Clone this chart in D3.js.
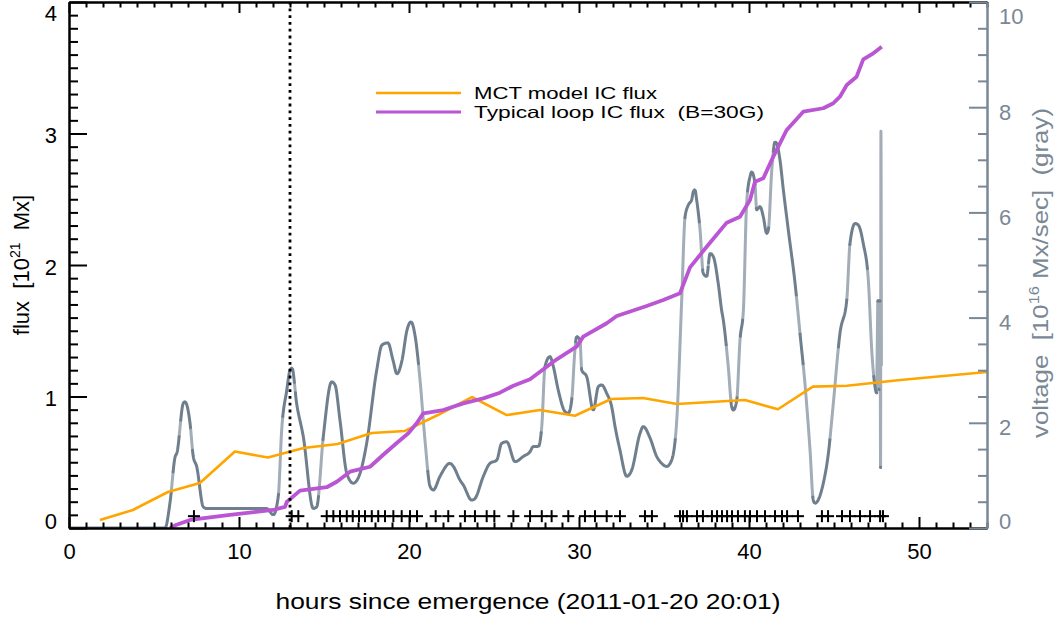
<!DOCTYPE html>
<html>
<head>
<meta charset="utf-8">
<script src="https://cdn.jsdelivr.net/npm/d3@7"></script>
<style>
  html, body { margin: 0; padding: 0; background: #ffffff; }
  svg { display: block; }
  text { font-family: "Liberation Sans", Arial, sans-serif; }
</style>
</head>
<body>
<svg id="chart" width="1055" height="617"></svg>
<script>
// ---- data -------------------------------------------------------------
// MCT model interchange-connectivity flux [1e21 Mx]
const mctHours = [1.82, 3.76, 5.82, 7.7, 9.76, 11.7, 13.8, 15.8, 17.8, 19.76, 21.7, 23.7,
  25.75, 27.7, 29.76, 31.9, 33.76, 35.76, 39.76, 41.7, 43.76, 45.76, 48.9, 54.0];
const mctFlux = [0.061, 0.137, 0.274, 0.342, 0.582, 0.536, 0.608, 0.639, 0.722, 0.738, 0.859, 0.996,
  0.859, 0.897, 0.854, 0.981, 0.989, 0.943, 0.973, 0.903, 1.075, 1.082, 1.125, 1.186];

// Typical loop IC flux for B = 30 G [1e21 Mx]
const loopHours = [5.94, 6.29, 7.12, 9.47, 12.0, 12.7, 12.82, 13.59, 15.16, 15.75, 16.53, 17.71,
  18.47, 19.28, 19.96, 20.45, 20.84, 22.02, 23.19, 24.37, 25.35, 26.14, 27.12, 28.69, 29.86,
  30.25, 31.63, 32.22, 33.98, 34.96, 35.94, 36.53, 37.51, 38.69, 39.47, 40.06, 40.35, 40.84,
  41.43, 42.22, 43.19, 44.37, 44.96, 45.35, 45.75, 46.33, 46.72, 47.31, 47.81];
const loopFlux = [0, 0.023, 0.061, 0.099, 0.137, 0.16, 0.2, 0.284, 0.31, 0.352, 0.428, 0.466,
  0.555, 0.646, 0.72, 0.796, 0.872, 0.897, 0.948, 0.986, 1.029, 1.082, 1.131, 1.283, 1.379,
  1.455, 1.557, 1.612, 1.688, 1.734, 1.785, 1.982, 2.139, 2.322, 2.367, 2.494, 2.633, 2.659,
  2.824, 3.027, 3.166, 3.192, 3.23, 3.28, 3.369, 3.432, 3.564, 3.61, 3.66];

// Voltage [1e16 Mx/sec]
const voltHours = [0, 5.65, 5.94, 6.24, 6.35, 6.72, 6.82, 7.12, 7.31, 7.51, 7.9, 8.1, 11.63,
  12.02, 12.31, 12.51, 12.81, 13.0, 13.12, 13.39, 13.78, 14.37, 14.57, 14.96, 15.45, 15.65,
  15.94, 16.34, 16.72, 17.12, 17.51, 18.1, 18.41, 18.76, 19.06, 19.29, 19.59, 19.88, 20.12,
  20.35, 20.65, 20.94, 21.24, 21.43, 21.82, 22.41, 22.61, 23.0, 23.19, 23.69, 23.88, 24.37,
  24.76, 25.16, 25.45, 25.75, 26.24, 26.72, 27.12, 27.31, 27.61, 27.81, 28.0, 28.29, 28.49,
  28.78, 29.18, 29.37, 29.57, 29.76, 29.86, 30.06, 30.16, 30.45, 30.84, 31.14, 31.34, 31.63,
  31.92, 32.12, 32.41, 32.81, 33.1, 33.59, 33.78, 34.18, 34.57, 34.86, 35.16, 35.45, 35.75,
  36.04, 36.24, 36.43, 36.63, 36.72, 36.82, 36.92, 37.12, 37.31, 37.51, 37.71, 37.9, 38.19,
  38.39, 38.49, 38.78, 38.98, 39.08, 39.28, 39.47, 39.67, 39.86, 40.06, 40.16, 40.35, 40.45,
  40.65, 40.84, 41.04, 41.14, 41.34, 41.53, 41.63, 41.82, 42.02, 42.31, 42.71, 43.0, 43.29,
  43.59, 43.78, 43.88, 44.37, 44.67, 44.96, 45.35, 45.75, 45.94, 46.24, 46.43, 46.72, 47.02,
  47.22, 47.41, 47.51, 47.53, 47.59, 47.65, 47.71, 47.74, 47.76, 47.79];
const voltValues = [0, 0, 0.48, 1.35, 1.43, 2.37, 2.4, 1.99, 1.36, 1.17, 0.4, 0.37, 0.37,
  0.25, 0.6, 1.86, 2.62, 3.0, 3.04, 2.37, 1.74, 0.37, 0.4, 1.74, 2.78, 2.72,
  2.05, 1.04, 0.85, 1.04, 1.61, 3.0, 3.48, 3.52, 3.19, 2.93, 3.19, 3.76, 3.92,
  3.67, 2.81, 1.67, 0.79, 0.72, 0.98, 1.23, 1.17, 0.91, 0.82, 0.53, 0.56, 0.98,
  1.23, 1.29, 1.61, 1.64, 1.26, 1.36, 1.45, 1.55, 1.55, 1.93, 3.07, 3.26, 3.07,
  2.62, 2.21, 2.18, 2.43, 3.38, 3.64, 3.57, 3.0, 2.88, 2.24, 2.69, 2.72, 2.56,
  2.31, 1.93, 1.48, 0.98, 1.1, 1.8, 1.93, 1.71, 1.36, 1.23, 1.17, 1.29, 2.05,
  4.33, 5.92, 6.14, 6.24, 6.39, 6.43, 6.24, 5.67, 4.84, 4.78, 5.22, 5.16, 4.65,
  4.14, 3.95, 3.07, 2.31, 2.24, 2.43, 3.57, 4.14, 6.17, 6.68, 6.77, 6.55, 6.05,
  6.11, 5.92, 5.6, 5.67, 6.81, 7.34, 7.31, 7.0, 6.43, 5.67, 4.65, 3.7, 2.75,
  1.48, 0.53, 0.47, 0.85, 1.42, 2.37, 3.7, 4.33, 5.41, 5.79, 5.76, 5.41, 4.71,
  3.38, 2.69, 2.56, 3.1, 4.33, 2.62, 4.33, 1.14, 7.55, 3.1];

// Times of observed events (plotted as crosses just above the time axis)
const eventHours = [7.35, 13.1, 13.49, 15.16, 15.55, 15.94, 16.34, 16.69, 17.06, 17.41, 17.81,
  18.19, 18.59, 19.08, 19.57, 20.06, 20.47, 21.57, 22.31, 23.29, 23.88, 24.57, 25.02, 26.14,
  27.12, 27.81, 28.39, 29.37, 30.35, 30.94, 31.63, 32.41, 33.88, 34.29, 35.94, 36.12, 36.35,
  36.94, 37.29, 37.82, 38.12, 38.41, 38.71, 39.0, 39.35, 39.76, 40.06, 40.47, 40.94, 41.53,
  41.94, 42.24, 42.88, 44.29, 44.65, 45.47, 45.94, 46.53, 47.12, 47.71, 47.88];
const eventFluxLevel = 0.09;

// Emergence reference time (dotted marker)
const markerHour = 13.0;

// Axis ticks
const xMajorTicks = [0, 10, 20, 30, 40, 50];
const fluxMajorTicks = [0, 1, 2, 3, 4];
const voltMajorTicks = [0, 2, 4, 6, 8, 10];

const legendLabels = ["MCT model IC flux", "Typical loop IC flux  (B=30G)"];

// ---- layout -----------------------------------------------------------
const W = 1055, H = 617;
const L = 69, R = 987, T = 2, B = 528;
const COL = {
  mct: "#ffa500",
  loop: "#ba55d3",
  volt: "#6f7f8e",
  voltLight: "#a2adb8",
  rightAxis: "#7a8896"
};
const FS = 22;

const svg = d3.select("#chart");
svg.append("rect").attr("width", W).attr("height", H).attr("fill", "#fff");

const x = d3.scaleLinear().domain([0, 54]).range([L, R]);
const yL = d3.scaleLinear().domain([0, 4]).range([B, T]);
const yR = d3.scaleLinear().domain([0, 10]).range([B, T]);

const plot = svg.append("g");
svg.append("defs").append("clipPath").attr("id", "clip")
  .append("rect").attr("x", L).attr("y", T).attr("width", R - L).attr("height", B - T);
const clipped = plot.append("g").attr("clip-path", "url(#clip)");

// ---- voltage curve ------------------------------------------------------
// Smooth the series with a monotone curve, then sample it and render the
// near-vertical stretches in a lighter grey.
const lineR = d3.line().x(d => x(d[0])).y(d => yR(d[1])).curve(d3.curveMonotoneX);
const guide = clipped.append("path")
  .attr("d", lineR(voltHours.map((h, i) => [h, voltValues[i]])))
  .attr("fill", "none").attr("stroke", "none");
const node = guide.node();
const total = node.getTotalLength();
const samples = [];
for (let s = 0; s <= total; s += 1.5) {
  const p = node.getPointAtLength(s);
  samples.push([p.x, p.y]);
}
const lastP = node.getPointAtLength(total);
samples.push([lastP.x, lastP.y]);

const runs = [];
d3.pairs(samples).forEach(([a, b]) => {
  const dx = Math.abs(b[0] - a[0]), dy = Math.abs(b[1] - a[1]);
  const steep = dy > 10 * Math.max(dx, 0.001);
  const cur = runs[runs.length - 1];
  if (cur && cur.steep === steep) cur.pts.push(b);
  else runs.push({ steep, pts: [a, b] });
});
const runLine = d3.line();
const vg = clipped.append("g").attr("fill", "none").attr("stroke-width", 3)
  .attr("stroke-linecap", "round").attr("stroke-linejoin", "round");
vg.selectAll("path.light").data(runs.filter(r => r.steep)).join("path")
  .attr("class", "light").attr("d", r => runLine(r.pts)).attr("stroke", COL.voltLight);
vg.selectAll("path.dark").data(runs.filter(r => !r.steep)).join("path")
  .attr("class", "dark").attr("d", r => runLine(r.pts)).attr("stroke", COL.volt);

// ---- flux curves --------------------------------------------------------
const lineL = d3.line().x(d => x(d[0])).y(d => yL(d[1]));
clipped.append("path")
  .attr("d", lineL(mctHours.map((h, i) => [h, mctFlux[i]])))
  .attr("fill", "none").attr("stroke", COL.mct).attr("stroke-width", 2.6)
  .attr("stroke-linejoin", "round");
clipped.append("path")
  .attr("d", lineL(loopHours.map((h, i) => [h, loopFlux[i]])))
  .attr("fill", "none").attr("stroke", COL.loop).attr("stroke-width", 3.8)
  .attr("stroke-linejoin", "round");

// dotted marker line
clipped.append("line")
  .attr("x1", x(markerHour)).attr("x2", x(markerHour))
  .attr("y1", yL(0)).attr("y2", yL(4))
  .attr("stroke", "#000").attr("stroke-width", 2.8)
  .attr("stroke-dasharray", "2.8,4");

// event crosses
const cross = plot.append("g").attr("stroke", "#000").attr("stroke-width", 2);
eventHours.forEach(h => {
  const cx = x(h), cy = yL(eventFluxLevel);
  cross.append("line").attr("x1", cx - 6).attr("x2", cx + 6).attr("y1", cy).attr("y2", cy);
  cross.append("line").attr("x1", cx).attr("x2", cx).attr("y1", cy - 6).attr("y2", cy + 6);
});

// ---- axes ---------------------------------------------------------------
function styleAxis(g, color) {
  g.selectAll("path.domain").attr("stroke", color).attr("stroke-width", 2);
  g.selectAll(".tick line").attr("stroke", color).attr("stroke-width", 2);
  g.selectAll(".tick text").attr("fill", color)
    .style("font-family", '"Liberation Sans", Arial, sans-serif')
    .style("font-size", FS + "px");
}
const xMinor = d3.range(0, 55, 1).filter(v => v % 10 !== 0);
const fluxMinor = d3.range(1, 40).map(v => v / 10).filter(v => Math.abs(v - Math.round(v)) > 1e-6);
const voltMinor = d3.range(1, 20).map(v => v / 2).filter(v => v % 2 !== 0);

// bottom
svg.append("g").attr("transform", `translate(0,${B})`)
  .call(d3.axisBottom(x).tickValues(xMinor).tickSize(-5.5).tickSizeOuter(0).tickFormat(""))
  .call(g => styleAxis(g, "#000"));
svg.append("g").attr("transform", `translate(0,${B})`)
  .call(d3.axisBottom(x).tickValues(xMajorTicks).tickSize(-11).tickSizeOuter(0).tickPadding(15)
    .tickFormat(d3.format("d")))
  .call(g => styleAxis(g, "#000"))
  .call(g => g.selectAll(".tick text").attr("dy", "0.71em"));
// top
svg.append("g").attr("transform", `translate(0,${T})`)
  .call(d3.axisTop(x).tickValues(xMinor).tickSize(-5.5).tickSizeOuter(0).tickFormat(""))
  .call(g => styleAxis(g, "#000"));
svg.append("g").attr("transform", `translate(0,${T})`)
  .call(d3.axisTop(x).tickValues(xMajorTicks).tickSize(-11).tickSizeOuter(0).tickFormat(""))
  .call(g => styleAxis(g, "#000"));
// left
svg.append("g").attr("transform", `translate(${L},0)`)
  .call(d3.axisLeft(yL).tickValues(fluxMinor).tickSize(-9).tickSizeOuter(0).tickFormat(""))
  .call(g => styleAxis(g, "#000"));
svg.append("g").attr("transform", `translate(${L},0)`)
  .call(d3.axisLeft(yL).tickValues(fluxMajorTicks).tickSize(-18).tickSizeOuter(0).tickPadding(12)
    .tickFormat(d3.format("d")))
  .call(g => styleAxis(g, "#000"))
  .call(g => g.selectAll(".tick text").attr("y", d => d === 4 ? 11 : d === 0 ? -7 : 2));
// right
svg.append("g").attr("transform", `translate(${R},0)`)
  .call(d3.axisRight(yR).tickValues(voltMinor).tickSize(-9).tickSizeOuter(0).tickFormat(""))
  .call(g => styleAxis(g, COL.rightAxis));
svg.append("g").attr("transform", `translate(${R},0)`)
  .call(d3.axisRight(yR).tickValues(voltMajorTicks).tickSize(-18).tickSizeOuter(0).tickPadding(12)
    .tickFormat(d3.format("d")))
  .call(g => styleAxis(g, COL.rightAxis))
  .call(g => g.selectAll(".tick text").attr("y", d => d === 10 ? 14 : d === 0 ? -7 : 5));

// ---- titles -------------------------------------------------------------
svg.append("text")
  .attr("x", (L + R) / 2).attr("y", 609)
  .attr("text-anchor", "middle").attr("font-size", FS)
  .attr("textLength", 505).attr("lengthAdjust", "spacingAndGlyphs")
  .text("hours since emergence (2011-01-20 20:01)");

const leftTitle = svg.append("text")
  .attr("transform", `translate(29,${(T + B) / 2}) rotate(-90)`)
  .attr("text-anchor", "middle").attr("font-size", FS)
  .attr("xml:space", "preserve");
leftTitle.append("tspan").text("flux  [10");
leftTitle.append("tspan").attr("font-size", 14).attr("dy", -9).text("21");
leftTitle.append("tspan").attr("dy", 9).text("  Mx]");

const rightTitle = svg.append("text")
  .attr("transform", `translate(1048,${(T + B) / 2 + 8}) rotate(-90)`)
  .attr("text-anchor", "middle").attr("font-size", FS).attr("fill", COL.rightAxis)
  .attr("xml:space", "preserve")
  .attr("textLength", 330).attr("lengthAdjust", "spacingAndGlyphs");
rightTitle.append("tspan").text("voltage  [10");
rightTitle.append("tspan").attr("font-size", 14).attr("dy", -9).text("16");
rightTitle.append("tspan").attr("dy", 9).text(" Mx/sec]  (gray)");

// ---- legend -------------------------------------------------------------
const legend = svg.append("g");
[[COL.mct, 2.6, 93, legendLabels[0], 183], [COL.loop, 3, 112, legendLabels[1], 290]]
  .forEach(([c, w, y, label, len]) => {
    legend.append("line").attr("x1", 376).attr("x2", 461).attr("y1", y).attr("y2", y)
      .attr("stroke", c).attr("stroke-width", w);
    legend.append("text").attr("x", 474).attr("y", y + 6).attr("font-size", 16.5)
      .attr("xml:space", "preserve")
      .attr("textLength", len).attr("lengthAdjust", "spacingAndGlyphs")
      .text(label);
  });
</script>
</body>
</html>
